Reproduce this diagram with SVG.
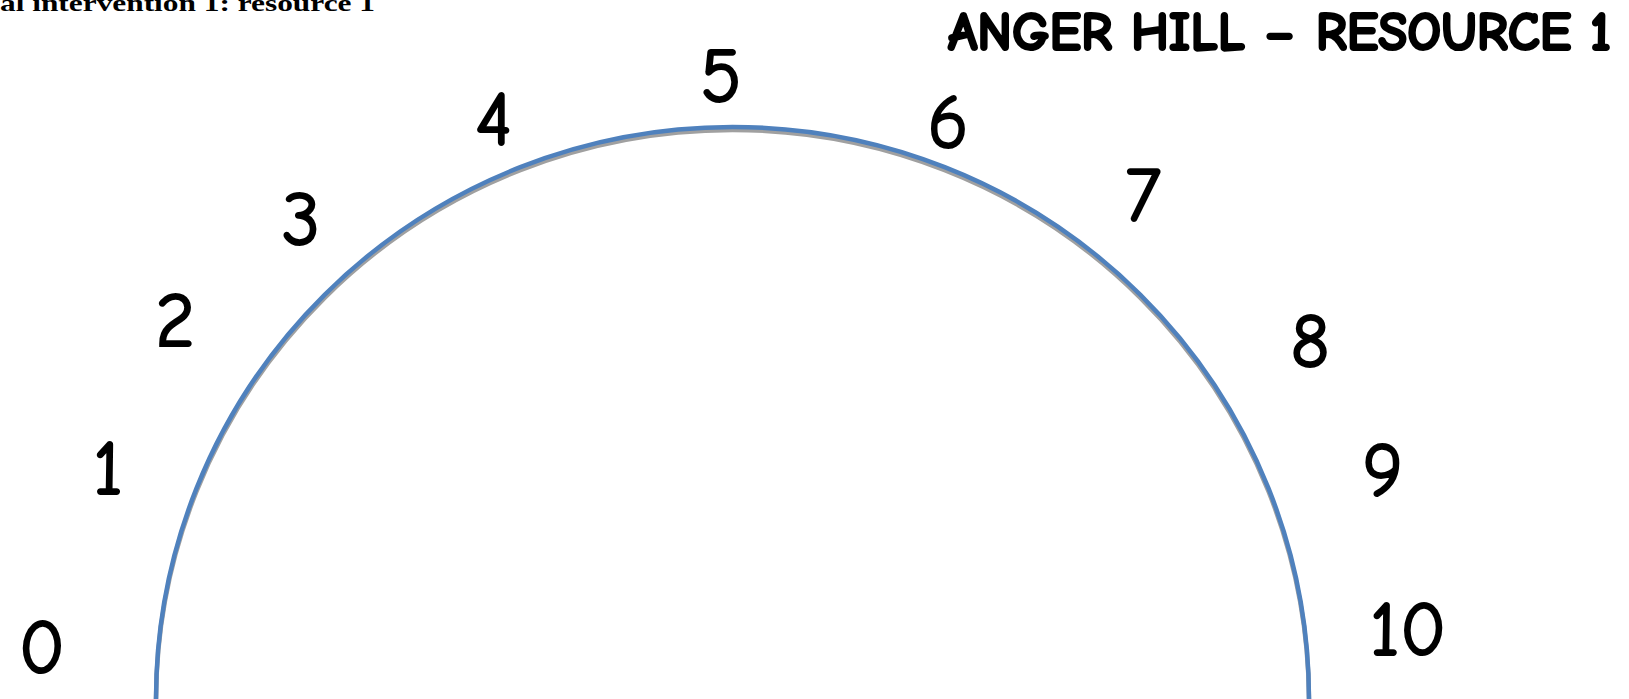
<svg xmlns="http://www.w3.org/2000/svg" width="1629" height="699" viewBox="0 0 1629 699">
<style>
.num{font-family:"Comic Sans MS","Comic Neue","Open Sans","DejaVu Sans",sans-serif;font-size:76px;fill:#000;stroke:#000;stroke-width:2;text-anchor:middle}
.title{font-family:"Comic Sans MS","Comic Neue","Open Sans","DejaVu Sans",sans-serif;font-size:54px;font-weight:bold;fill:#000;stroke:#000;stroke-width:2.2}
.hdr{font-family:"Liberation Serif","DejaVu Serif",serif;font-size:24px;font-weight:bold;fill:#000}
</style>
<rect width="1629" height="699" fill="#fff"/>
<text class="hdr" x="0" y="11" textLength="375" lengthAdjust="spacingAndGlyphs">al intervention 1: resource 1</text>
<text class="title" x="948" y="50" textLength="663" lengthAdjust="spacingAndGlyphs">ANGER HILL – RESOURCE 1</text>
<g id="connectors">
<path d="M 156 699 A 576.5 572 0 0 1 1309 699" fill="none" stroke="#a0a0a0" stroke-width="4.5" transform="translate(0,3)"/>
<path d="M 156 699 A 576.5 572 0 0 1 1309 699" fill="none" stroke="#4f81bd" stroke-width="4.5"/>
</g>
<g id="n0"><text class="num" x="42" y="673">0</text></g>
<g id="n1"><text class="num" x="108" y="494">1</text></g>
<g id="n2"><text class="num" x="175" y="346">2</text></g>
<g id="n3"><text class="num" x="301" y="245">3</text></g>
<g id="n4"><text class="num" x="494" y="145">4</text></g>
<g id="n5"><text class="num" x="721" y="102">5</text></g>
<g id="n6"><text class="num" x="948" y="148">6</text></g>
<g id="n7"><text class="num" x="1143" y="221">7</text></g>
<g id="n8"><text class="num" x="1310" y="367">8</text></g>
<g id="n9"><text class="num" x="1383" y="496">9</text></g>
<g id="n10"><text class="num" x="1408" y="655">10</text></g>
</svg>
